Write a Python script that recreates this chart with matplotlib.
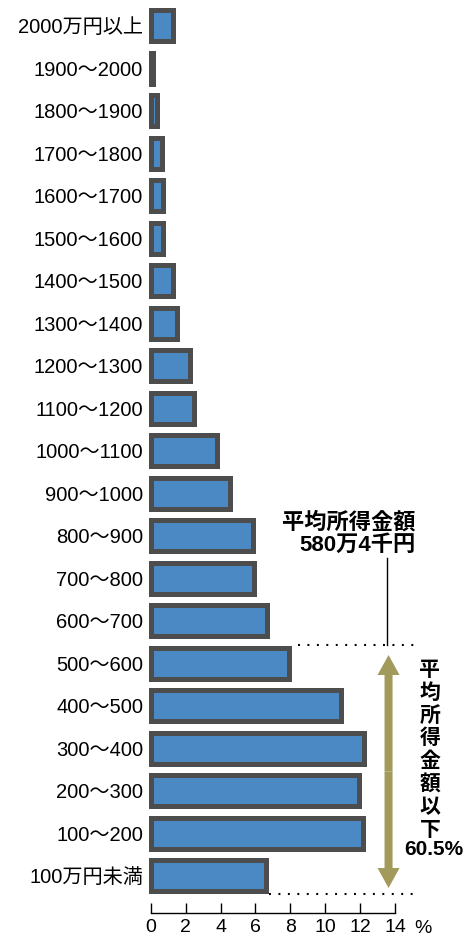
import matplotlib.pyplot as plt
from matplotlib.patches import FancyArrow

plt.rcParams['font.family'] = ['Liberation Sans', 'Noto Sans CJK JP']
plt.rcParams['lines.scale_dashes'] = False

# income bands, bottom to top (万円)
labels = ['100万円未満', '100～200', '200～300', '300～400', '400～500',
          '500～600', '600～700', '700～800', '800～900', '900～1000',
          '1000～1100', '1100～1200', '1200～1300', '1300～1400', '1400～1500',
          '1500～1600', '1600～1700', '1700～1800', '1800～1900', '1900～2000',
          '2000万円以上']
# share of households (%)
shares = [6.6, 12.15, 11.95, 12.25, 10.9,
          7.95, 6.65, 5.9, 5.85, 4.55,
          3.8, 2.5, 2.25, 1.5, 1.3,
          0.7, 0.7, 0.65, 0.35, 0.15,
          1.3]
xticks = [0, 2, 4, 6, 8, 10, 12, 14]

mean_title = '平均所得金額'
mean_value = '580万4千円'
below_title = '平均所得金額以下'
below_share = '60.5%'
mean_band = 5  # 500～600 contains the mean

bar_h = 0.73
edge_pad = 0.06  # half the bar outline in y units

fig = plt.figure(figsize=(4.64, 9.38), dpi=100)
ax = fig.add_axes([0.3248, 0.02665, 0.5265, 0.9691])

ypos = list(range(len(labels)))
bars = ax.barh(ypos, shares, height=bar_h, color='#4a89c3',
               edgecolor='#4d4d4d', linewidth=3.6)
for b in bars:
    b.set_clip_on(False)

ax.set_xlim(0, 14)
ax.set_ylim(-0.875, 20.513)
ax.set_xticks(xticks)
ax.set_yticks(ypos, labels)
for s in ['top', 'right', 'left']:
    ax.spines[s].set_visible(False)
ax.spines['bottom'].set_linewidth(1)
ax.tick_params(axis='x', direction='in', length=7.2, width=1, pad=4,
               labelsize=14)
ax.tick_params(axis='y', length=0, pad=5.5, labelsize=14.5)
ax.text(15.6, -1.228, '%', fontsize=14, ha='center', va='center')

# dotted guides at top of the mean band and bottom of the first band
top_y = mean_band + bar_h / 2 + edge_pad
bot_y = 0 - bar_h / 2 - edge_pad
ax.plot([shares[mean_band] + 0.5, 15.35], [top_y, top_y], color='black',
        lw=1.5, dashes=(1.4, 5.4), clip_on=False)
ax.plot([shares[0] + 0.2, 15.45], [bot_y, bot_y], color='black',
        lw=1.5, dashes=(1.4, 5.4), clip_on=False)

# leader line from the mean label
ax.plot([13.56, 13.56], [7.48, top_y], color='black', lw=1, clip_on=False)
ax.text(15.2, 8.30, mean_title, fontsize=16, fontweight='bold',
        ha='right', va='center')
ax.text(15.2, 7.78, mean_value, fontsize=16, fontweight='bold',
        ha='right', va='center')

# double-headed arrow spanning the bands below the mean
olive = '#a19a5b'
ax_x, tip_top, tip_bot = 13.63, 5.195, -0.287
mid = (tip_top + tip_bot) / 2
for dy in (tip_top - mid, tip_bot - mid):
    ax.add_patch(FancyArrow(ax_x, mid, 0, dy, width=0.46, head_width=1.26,
                            head_length=0.47, length_includes_head=True,
                            color=olive, lw=0, clip_on=False))

for i, ch in enumerate(below_title):
    ax.text(16.0, 4.84 - i * 0.538, ch, fontsize=15, fontweight='bold',
            ha='center', va='center')
ax.text(17.92, 0.61, below_share, fontsize=15, fontweight='bold',
        ha='right', va='center')

fig.savefig('out.png', dpi=100)
